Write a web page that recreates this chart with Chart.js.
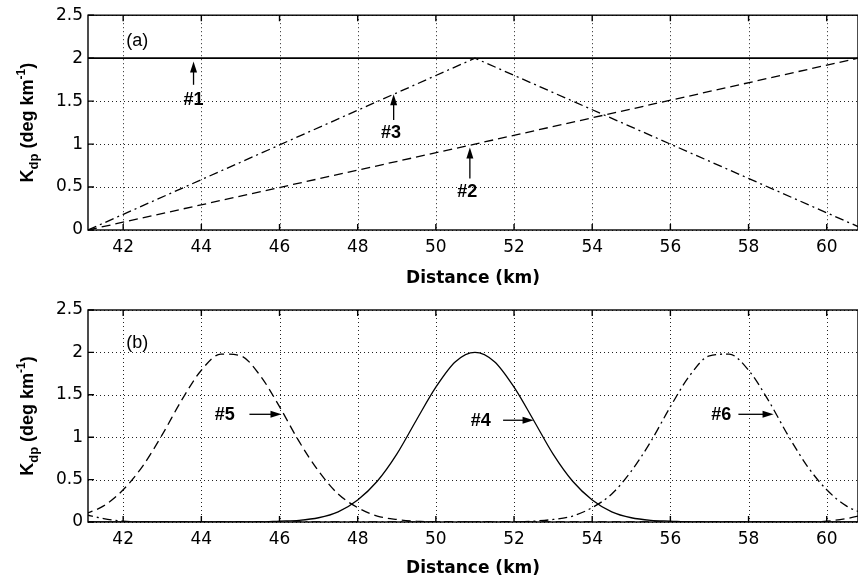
<!DOCTYPE html>
<html>
<head>
<meta charset="utf-8">
<script src="https://cdn.jsdelivr.net/npm/chart.js@4"></script>
<style>
    html, body { margin: 0; padding: 0; background: #fff; }
    .panel { position: relative; width: 858px; height: 290px; }
</style>
</head>
<body>
<div class="panel"><canvas id="chartA"></canvas></div>
<div class="panel"><canvas id="chartB"></canvas></div>
<script>
// panel (a): linear profiles
const distanceA = [41.1, 51.0, 60.8];
const kdp1 = [2, 2, 2];
const kdp2 = [0, 1.0, 2.0];
const kdp3 = [0, 2, 0.04];

// panel (b): bell-shaped profiles, read every 0.5 km
const distanceB = [41, 41.5, 42, 42.5, 43, 43.5, 44, 44.5, 45, 45.5, 46, 46.5, 47, 47.5, 48, 48.5,
    49, 49.5, 50, 50.5, 51, 51.5, 52, 52.5, 53, 53.5, 54, 54.5, 55, 55.5, 56, 56.5, 57, 57.5,
    58, 58.5, 59, 59.5, 60, 60.5, 61];
const kdp4 = [0, 0, 0, 0, 0, 0, 0, 0, 0, 0, 0.01, 0.02, 0.05, 0.12, 0.26, 0.48,
    0.80, 1.20, 1.59, 1.89, 2.00, 1.89, 1.59, 1.20, 0.80, 0.48, 0.26, 0.12, 0.05, 0.02, 0.01, 0, 0, 0,
    0, 0, 0, 0, 0, 0, 0];
const kdp5 = [0.09, 0.19, 0.38, 0.66, 1.03, 1.44, 1.79, 1.98, 1.96, 1.73, 1.36, 0.95, 0.60, 0.33, 0.17, 0.07,
    0.03, 0.01, 0, 0, 0, 0, 0, 0, 0, 0, 0, 0, 0, 0, 0, 0, 0, 0,
    0, 0, 0, 0, 0.01, 0.04, 0.09];
const kdp6 = [0.09, 0.04, 0.01, 0, 0, 0, 0, 0, 0, 0, 0, 0, 0, 0, 0, 0,
    0, 0, 0, 0, 0, 0, 0, 0.01, 0.03, 0.07, 0.17, 0.33, 0.60, 0.95, 1.36, 1.73, 1.96, 1.98,
    1.79, 1.44, 1.03, 0.66, 0.38, 0.19, 0.09];

const xTicks = [42, 44, 46, 48, 50, 52, 54, 56, 58, 60];
const yTicks = [0, 0.5, 1, 1.5, 2, 2.5];

const FONT = "'Liberation Sans', Arial, Helvetica, sans-serif";
const WIDE = "'DejaVu Sans', Verdana, sans-serif";
const SOLID = [];
const DASHED = [9, 5];
const DASHDOT = [9, 4, 2, 4];

function pts(xs, ys) {
    return xs.map((v, i) => ({ x: v, y: ys[i] }));
}

function series(xs, ys, dash, width, smooth) {
    return {
        data: pts(xs, ys),
        borderColor: '#000',
        borderWidth: width || 1.3,
        borderDash: dash,
        pointRadius: 0,
        tension: 0,
        cubicInterpolationMode: smooth ? 'monotone' : 'default',
        fill: false
    };
}

function drawArrow(ctx, x1, y1, x2, y2) {
    const ang = Math.atan2(y2 - y1, x2 - x1);
    const L = 11, W = 3.5;
    const c = Math.cos(ang), s = Math.sin(ang);
    ctx.beginPath();
    ctx.moveTo(x1, y1);
    ctx.lineTo(x2 - L * 0.8 * c, y2 - L * 0.8 * s);
    ctx.stroke();
    ctx.beginPath();
    ctx.moveTo(x2, y2);
    ctx.lineTo(x2 - L * c + W * s, y2 - L * s - W * c);
    ctx.lineTo(x2 - L * c - W * s, y2 - L * s + W * c);
    ctx.closePath();
    ctx.fill();
}

const gridPlugin = {
    id: 'dottedGrid',
    beforeDatasetsDraw(chart) {
        const { ctx, chartArea: a, scales: { x, y } } = chart;
        ctx.save();
        ctx.strokeStyle = '#222';
        ctx.lineWidth = 1;
        ctx.setLineDash([1, 3]);
        ctx.beginPath();
        xTicks.forEach(v => {
            const px = Math.round(x.getPixelForValue(v)) + 0.5;
            ctx.moveTo(px, a.top);
            ctx.lineTo(px, a.bottom);
        });
        yTicks.forEach(v => {
            const py = Math.round(y.getPixelForValue(v)) + 0.5;
            ctx.moveTo(a.left, py);
            ctx.lineTo(a.right, py);
        });
        ctx.stroke();
        ctx.restore();
    }
};

const framePlugin = {
    id: 'frameNotes',
    afterDatasetsDraw(chart, args, opts) {
        const { ctx, chartArea: a, scales: { x, y } } = chart;
        ctx.save();
        ctx.strokeStyle = '#000';
        ctx.fillStyle = '#000';
        ctx.lineWidth = 1.4;
        ctx.setLineDash([]);
        ctx.strokeRect(a.left, a.top, a.right - a.left, a.bottom - a.top);

        // inward tick marks
        ctx.beginPath();
        xTicks.forEach(v => {
            const px = x.getPixelForValue(v);
            ctx.moveTo(px, a.bottom); ctx.lineTo(px, a.bottom - 6);
            ctx.moveTo(px, a.top); ctx.lineTo(px, a.top + 6);
        });
        yTicks.forEach(v => {
            const py = y.getPixelForValue(v);
            ctx.moveTo(a.left, py); ctx.lineTo(a.left + 6, py);
        });
        ctx.stroke();

        // notes and arrows
        ctx.lineWidth = 1.3;
        (opts.notes || []).forEach(n => {
            ctx.font = n.bold ? 'bold 18px ' + FONT : '18px ' + FONT;
            ctx.textAlign = n.align || 'center';
            ctx.textBaseline = 'middle';
            ctx.fillText(n.text, x.getPixelForValue(n.tx), y.getPixelForValue(n.ty));
            if (n.from) {
                drawArrow(ctx,
                    x.getPixelForValue(n.from[0]), y.getPixelForValue(n.from[1]),
                    x.getPixelForValue(n.to[0]), y.getPixelForValue(n.to[1]));
            }
        });

        // y axis title with sub/superscript
        const parts = [
            { t: 'K', size: 18, dy: 0 },
            { t: 'dp', size: 13, dy: 5 },
            { t: ' (deg km', size: 18, dy: 0 },
            { t: '-1', size: 12, dy: -8 },
            { t: ')', size: 18, dy: 0 }
        ];
        let total = 0;
        parts.forEach(p => {
            ctx.font = 'bold ' + p.size + 'px ' + FONT;
            p.w = ctx.measureText(p.t).width;
            total += p.w;
        });
        ctx.translate(27, (a.top + a.bottom) / 2);
        ctx.rotate(-Math.PI / 2);
        ctx.textAlign = 'left';
        ctx.textBaseline = 'alphabetic';
        let cx = -total / 2;
        parts.forEach(p => {
            ctx.font = 'bold ' + p.size + 'px ' + FONT;
            ctx.fillText(p.t, cx, 6 + p.dy);
            cx += p.w;
        });
        ctx.restore();
    }
};

function makeChart(id, datasets, notes, padTop, axisHeight) {
    return new Chart(document.getElementById(id), {
        type: 'line',
        data: { datasets: datasets },
        options: {
            responsive: true,
            maintainAspectRatio: false,
            animation: false,
            layout: { padding: { top: padTop, right: 0, bottom: 0, left: 0 } },
            plugins: {
                legend: { display: false },
                tooltip: { enabled: false },
                frameNotes: { notes: notes }
            },
            scales: {
                x: {
                    type: 'linear',
                    min: 41.1,
                    max: 60.8,
                    afterBuildTicks: s => { s.ticks = xTicks.map(v => ({ value: v })); },
                    afterFit: s => { s.height = axisHeight; },
                    grid: { display: false, drawTicks: false },
                    border: { display: false },
                    ticks: {
                        padding: 7,
                        color: '#000',
                        maxRotation: 0,
                        font: { family: WIDE, size: 17 },
                        callback: v => String(v)
                    },
                    title: {
                        display: true,
                        text: 'Distance (km)',
                        color: '#000',
                        font: { family: WIDE, size: 17, weight: 'bold' },
                        padding: { top: 4, bottom: 1 }
                    }
                },
                y: {
                    min: 0,
                    max: 2.5,
                    afterBuildTicks: s => { s.ticks = yTicks.map(v => ({ value: v })); },
                    afterFit: s => { s.width = 88; },
                    grid: { display: false, drawTicks: false },
                    border: { display: false },
                    ticks: {
                        padding: 5,
                        color: '#000',
                        font: { family: WIDE, size: 17 },
                        callback: v => String(v)
                    }
                }
            }
        },
        plugins: [gridPlugin, framePlugin]
    });
}

makeChart('chartA', [
    series(distanceA, kdp1, SOLID, 1.6, false),
    series(distanceA, kdp2, DASHED, 1.3, false),
    series(distanceA, kdp3, DASHDOT, 1.3, false)
], [
    { text: '(a)', tx: 42.08, ty: 2.2, align: 'left' },
    { text: '#1', tx: 43.8, ty: 1.51, bold: true, from: [43.8, 1.69], to: [43.8, 1.96] },
    { text: '#3', tx: 48.85, ty: 1.13, bold: true, from: [48.92, 1.28], to: [48.92, 1.58] },
    { text: '#2', tx: 50.8, ty: 0.44, bold: true, from: [50.87, 0.6], to: [50.87, 0.96] }
], 15, 60);

makeChart('chartB', [
    series(distanceB, kdp4, SOLID, 1.3, true),
    series(distanceB, kdp5, DASHED, 1.3, true),
    series(distanceB, kdp6, DASHDOT, 1.3, true)
], [
    { text: '(b)', tx: 42.08, ty: 2.11, align: 'left' },
    { text: '#5', tx: 44.6, ty: 1.26, bold: true, from: [45.23, 1.27], to: [46.05, 1.27] },
    { text: '#4', tx: 51.15, ty: 1.19, bold: true, from: [51.72, 1.2], to: [52.5, 1.2] },
    { text: '#6', tx: 57.3, ty: 1.26, bold: true, from: [57.74, 1.27], to: [58.64, 1.27] }
], 20, 58);
</script>
</body>
</html>
